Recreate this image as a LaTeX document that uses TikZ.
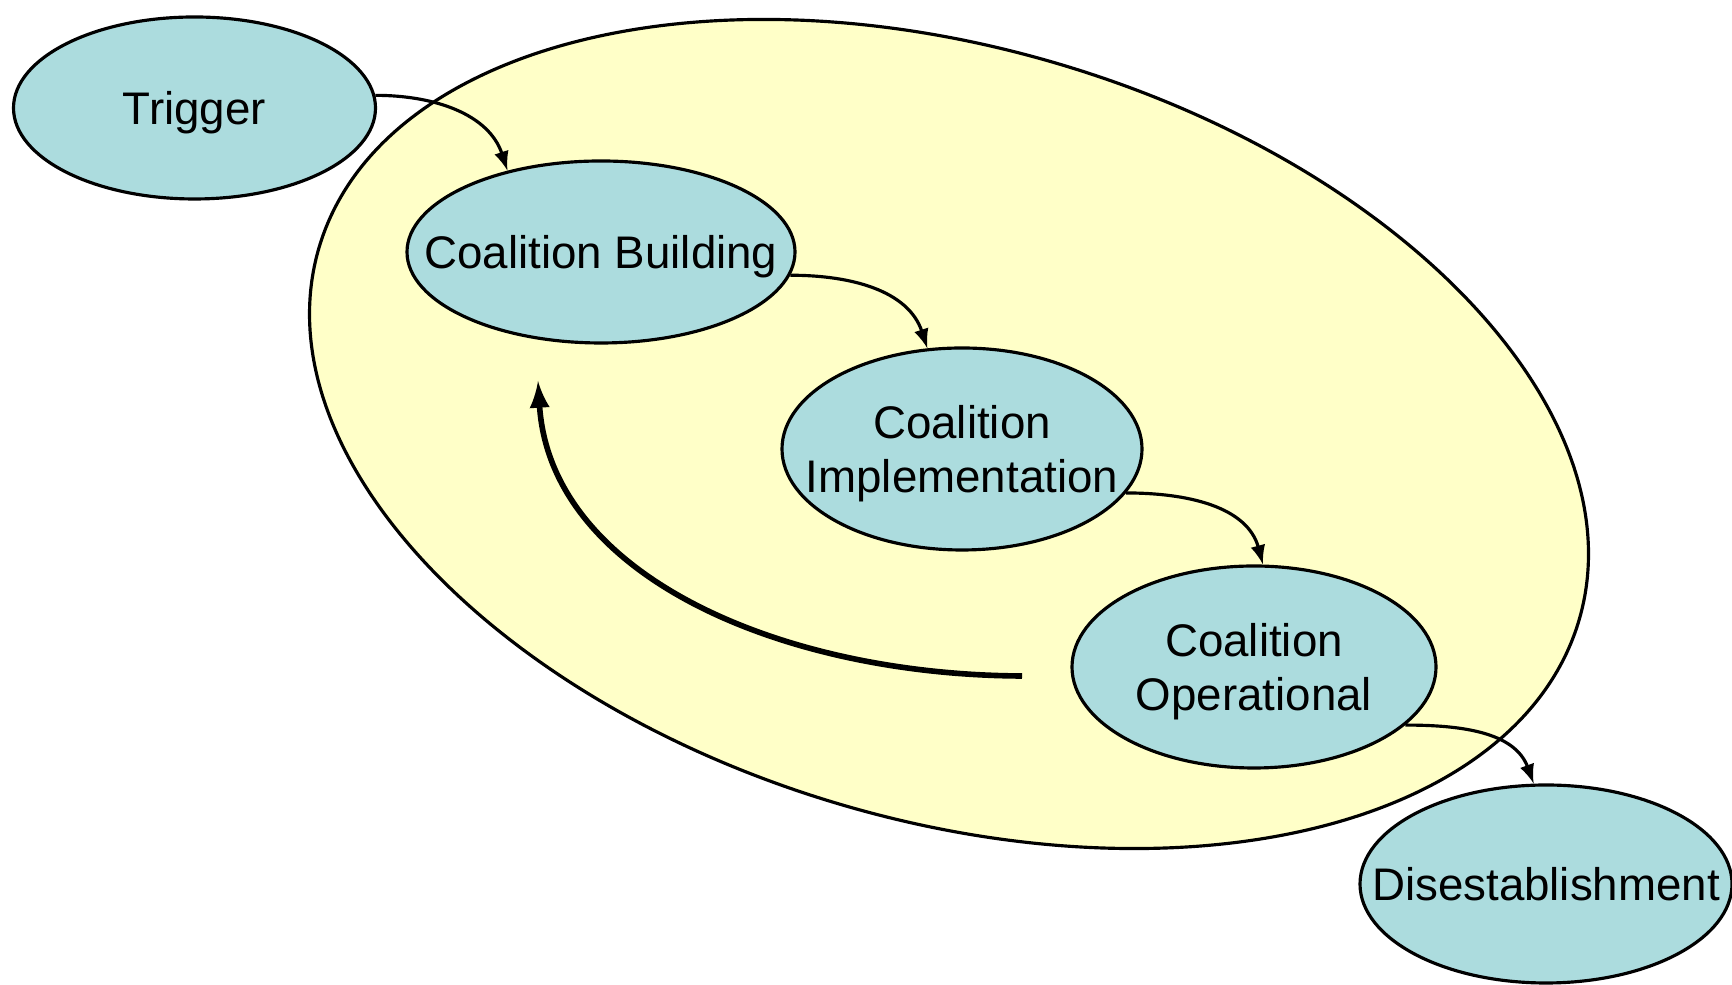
\documentclass[tikz,border=0pt]{standalone}
\usepackage{fontspec}
\setmainfont{Liberation Sans}
\usepackage{xcolor}
\usetikzlibrary{shapes.geometric}
\definecolor{bulle}{RGB}{172,220,222}
\definecolor{fond}{RGB}{255,255,200}
\newcommand{\etiq}[1]{\makebox[0pt]{\smash{\raisebox{-0.16cm}{$\vcenter{\hbox{\begin{tabular}{@{}c@{}}#1\end{tabular}}}$}}}}

\begin{document}
\begin{tikzpicture}[>=latex,
	bulle/.style={ellipse,draw=black,line width=0.9pt,fill=bulle,inner sep=0pt,
		font=\fontsize{13}{15.5}\selectfont},
	fleche/.style={line width=0.9pt,->},
	retour/.style={line width=1.6pt,->}]
\useasboundingbox (0,0) rectangle (17.32,9.85);
\begin{scope}
	%grande ellipse
	\draw[line width=0.9pt,fill=fond,rotate around={-16.5:(9.49,5.51)}] (9.49,5.51) ellipse (6.57cm and 3.86cm);
	%les etapes
	\node[bulle,minimum width=3.62cm,minimum height=1.82cm] (T) at (1.945,8.77) {\etiq{Trigger}};
	\node[bulle,minimum width=3.88cm,minimum height=1.82cm] (B) at (6.01,7.33) {\etiq{Coalition Building}};
	\node[bulle,minimum width=3.60cm,minimum height=2.02cm] (I) at (9.62,5.36) {\etiq{Coalition\\Implementation}};
	\node[bulle,minimum width=3.64cm,minimum height=2.02cm] (O) at (12.54,3.18) {\etiq{Coalition\\Operational}};
	\node[bulle,minimum width=3.72cm,minimum height=1.98cm] (D) at (15.46,1.01) {\etiq{Disestablishment}};
	\draw[fleche] (T.4) to[out=0,in=108] (B.139);
	\draw[fleche] (B.-7) to[out=0,in=108] (I.109);
	\draw[fleche] (I.-15) to[out=0,in=105] (O.85);
	\draw[fleche] (O.-21) to[out=0,in=110] (D.97);
	%retour
	\coordinate (G) at (10.22,3.09);
	\coordinate (H) at (5.38,6.04);
	\draw[retour] (G) .. controls (7.8,3.1) and (5.5,4.1) .. (H);
\end{scope}
\end{tikzpicture}
\end{document}
